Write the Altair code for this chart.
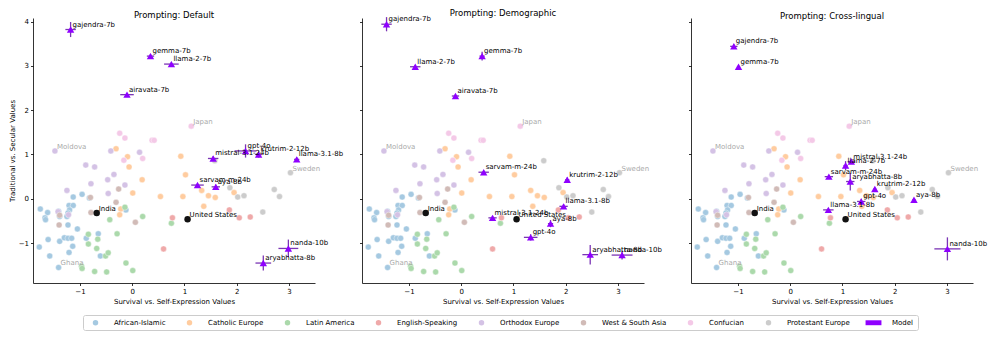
import altair as alt
import pandas as pd

FONT = "DejaVu Sans"

# ---------------- data ----------------
groups = ["African-Islamic", "Catholic Europe", "Latin America", "English-Speaking",
          "Orthodox Europe", "West & South Asia", "Confucian", "Protestant Europe", "Model"]
base_colors = ["#1f77b4", "#ff7f0e", "#2ca02c", "#d62728", "#9467bd",
               "#8c564b", "#e377c2", "#7f7f7f"]
model_color = "#8F00FF"

african_islamic_x = [-1.76, -1.62, -1.67, -1.66, -1.41, -1.39, -1.21, -1.13, -1.20, -1.23, -1.25,
                     -1.13, -0.96, -0.82, -1.23, -1.05, -1.61, -1.39, -1.30, -1.23, -1.16, -1.14,
                     -1.78, -1.58, -1.21, -1.41, -0.88, -0.65, -0.61, -0.12]
african_islamic_y = [-0.23, -0.31, -0.43, -0.47, -0.28, -0.40, -0.15, -0.15, -0.25, -0.32, -0.40,
                     0.04, 0.10, 0.02, -0.59, -0.68, -0.92, -0.96, -0.88, -0.89, -0.89, -1.07,
                     -1.09, -1.29, -1.21, -1.55, -0.89, -0.79, -1.29, -0.25]
catholic_x = [-0.31, -0.09, -0.06, 0.19, 0.01, -0.22, -0.24, 0.93, 1.02, 0.54, 0.97, 1.33, 1.46, 1.37, 1.59, 1.95]
catholic_y = [1.13, 0.95, 0.72, 0.43, 0.13, -0.23, -0.36, 0.96, 0.54, 0.05, 0.05, 0.19, 0.07, -0.17, 0.03, 0.14]
latin_x = [-0.84, -0.66, -0.84, -0.68, -0.29, -0.43, 0.20, -0.14, -0.97, -0.96, -0.72, -0.49, -0.12, 0.01, -0.51, -0.46, 0.75]
latin_y = [-0.80, -0.91, -1.02, -1.12, -0.79, -0.47, -0.40, -0.19, -1.52, -1.57, -1.64, -1.65, -1.45, -1.62, -1.29, -1.22, -0.55]
english_x = [0.77, 0.60, 1.86, 2.05, 2.26]
english_y = [-0.43, -1.13, -0.25, -0.43, -0.41]
orthodox_x = [-1.48, -0.41, -0.89, -0.72, -0.35, -0.47, -0.79, -0.14, -1.25, -0.46, 0.14, -1.42, -1.22]
orthodox_y = [1.08, 1.08, 0.76, 0.72, 0.55, 0.43, 0.34, 0.31, 0.19, 0.12, 1.05, -0.29, -0.36]
west_south_asia_x = [-0.80, -0.26, -0.31, 0.06, -1.40, -1.39, -0.79]
west_south_asia_y = [0.03, 0.22, -0.08, -0.53, -0.59, -0.37, -0.31]
confucian_x = [1.13, -0.24, -0.14, 0.38, 0.42, -0.16, 0.20]
confucian_y = [1.64, 1.48, 1.37, 1.32, 1.32, 0.87, 0.91]
protestant_x = [3.03, 1.87, 2.02, 2.14, 2.72, 2.82, 2.50, 1.58]
protestant_y = [0.59, 0.25, 0.04, 0.07, 0.21, 0.05, -0.30, 0.86]

highlight_names = ["India", "United States"]
highlight_x = [-0.68, 1.06]
highlight_y = [-0.32, -0.46]

ref_names = ["Japan", "Moldova", "Sweden", "Ghana"]
ref_x = [1.13, -1.48, 3.03, -1.41]
ref_y = [1.64, 1.08, 0.59, -1.55]

models = ["gajendra-7b", "gemma-7b", "llama-2-7b", "airavata-7b", "gpt-4o", "krutrim-2-12b",
          "mistral-3.1-24b", "llama-3.1-8b", "sarvam-m-24b", "aya-8b", "nanda-10b", "aryabhatta-8b"]

default_x = [-1.18, 0.35, 0.75, -0.10, 2.17, 2.42, 1.55, 3.15, 1.25, 1.60, 2.99, 2.51]
default_y = [3.82, 3.22, 3.04, 2.35, 1.08, 1.00, 0.91, 0.89, 0.31, 0.27, -1.12, -1.45]
default_xerr = [0.10, 0.07, 0.14, 0.13, 0.21, 0.07, 0.10, 0.05, 0.12, 0.08, 0.19, 0.15]
default_yerr = [0.17, 0.05, 0.05, 0.04, 0.15, 0.07, 0.05, 0.05, 0.03, 0.05, 0.20, 0.17]

demo_x = [-1.43, 0.40, -0.88, -0.11, 1.33, 2.03, 0.60, 1.96, 0.43, 1.71, 3.08, 2.47]
demo_y = [3.94, 3.22, 2.98, 2.32, -0.87, 0.43, -0.43, -0.17, 0.60, -0.56, -1.27, -1.26]
demo_xerr = [0.10, 0.05, 0.10, 0.07, 0.13, 0.04, 0.08, 0.08, 0.10, 0.05, 0.20, 0.15]
demo_yerr = [0.16, 0.10, 0.04, 0.04, 0.07, 0.05, 0.04, 0.05, 0.04, 0.08, 0.10, 0.22]

cross_x = [-1.08, -0.99, 1.06, None, 1.36, 1.62, 1.17, 0.73, 0.74, 2.37, 3.01, 1.15]
cross_y = [3.44, 2.98, 0.75, None, -0.06, 0.22, 0.84, -0.25, 0.50, -0.02, -1.13, 0.39]
cross_xerr = [0.07, 0.03, 0.04, None, 0.08, 0.03, 0.07, 0.10, 0.08, 0.03, 0.25, 0.08]
cross_yerr = [0.06, 0.03, 0.10, None, 0.06, 0.03, 0.04, 0.03, 0.03, 0.03, 0.26, 0.20]

x_ticks = [-1, 0, 1, 2, 3]
y_ticks = [-1, 0, 1, 2, 3, 4]


# ---------------- styling helpers ----------------
def blend(hex_color, alpha=0.4):
    h = hex_color.lstrip("#")
    rgb = [int(h[i:i + 2], 16) for i in (0, 2, 4)]
    out = [round(255 - alpha * (255 - c)) for c in rgb]
    return "#" + "".join(f"{c:02x}" for c in out)


colors = [blend(c) for c in base_colors] + [model_color]
model_legend_shape = "M-2.9,-0.9L2.9,-0.9L2.9,0.9L-2.9,0.9Z"
shapes = ["circle"] * 8 + [model_legend_shape]

group_xy = [
    (african_islamic_x, african_islamic_y), (catholic_x, catholic_y), (latin_x, latin_y),
    (english_x, english_y), (orthodox_x, orthodox_y), (west_south_asia_x, west_south_asia_y),
    (confucian_x, confucian_y), (protestant_x, protestant_y),
]
rows = []
for g, (xs, ys) in zip(groups[:8], group_xy):
    for a, b in zip(xs, ys):
        rows.append({"x": a, "y": b, "group": g})
countries = pd.DataFrame(rows)
highlights = pd.DataFrame({"x": highlight_x, "y": highlight_y, "name": highlight_names})
refs = pd.DataFrame({"x": ref_x, "y": ref_y, "name": ref_names})

color_enc = alt.Color("group:N", title=None,
                      scale=alt.Scale(domain=groups, range=colors))
shape_enc = alt.Shape("group:N", title=None,
                      scale=alt.Scale(domain=groups, range=shapes))


def panel(title, mx, my, mxe, mye, first):
    mdf = pd.DataFrame({"model": models, "x": mx, "y": my, "xe": mxe, "ye": mye}).dropna()
    mdf["group"] = "Model"
    mdf["x0"] = mdf["x"] - mdf["xe"]
    mdf["x1"] = mdf["x"] + mdf["xe"]
    mdf["y0"] = mdf["y"] - mdf["ye"]
    mdf["y1"] = mdf["y"] + mdf["ye"]

    xscale = alt.Scale(domain=[-1.9, 3.5], nice=False, zero=False)
    yscale = alt.Scale(domain=[-1.9, 4.08], nice=False, zero=False)
    xaxis = alt.Axis(values=x_ticks, title="Survival vs. Self-Expression Values", grid=False)
    if first:
        yaxis = alt.Axis(values=y_ticks, title="Traditional vs. Secular Values", grid=False)
    else:
        yaxis = alt.Axis(values=y_ticks, labels=False, title=None, grid=False)
    X = lambda f: alt.X(f, type="quantitative", scale=xscale, axis=xaxis)
    Y = lambda f: alt.Y(f, type="quantitative", scale=yscale, axis=yaxis)

    pts = alt.Chart(countries).mark_point(filled=True, size=36, opacity=1, stroke="white",
                                          strokeWidth=0.4).encode(
        x=X("x"), y=Y("y"), color=color_enc, shape=shape_enc)
    ref_txt = alt.Chart(refs).mark_text(align="left", baseline="middle", dx=2, dy=-4,
                                        fontSize=7, font=FONT, color="#aaaaaa").encode(
        x=X("x"), y=Y("y"), text="name:N")
    hl_pts = alt.Chart(highlights).mark_circle(size=42, color="#111111", opacity=1).encode(
        x=X("x"), y=Y("y"))
    hl_txt = alt.Chart(highlights).mark_text(align="left", baseline="middle", dx=2, dy=-4,
                                             fontSize=7, font=FONT, color="black").encode(
        x=X("x"), y=Y("y"), text="name:N")
    err_x = alt.Chart(mdf).mark_rule(color="#7b35b5", strokeWidth=1.3).encode(
        x=X("x0"), x2="x1", y=Y("y"))
    err_y = alt.Chart(mdf).mark_rule(color="#7b35b5", strokeWidth=1.3).encode(
        x=X("x"), y=Y("y0"), y2="y1")
    tri = alt.Chart(mdf).mark_point(filled=True, shape="triangle-up", size=55, opacity=1).encode(
        x=X("x"), y=Y("y"), color=color_enc)
    m_txt = alt.Chart(mdf).mark_text(align="left", baseline="middle", dx=2, dy=-5,
                                     fontSize=7, font=FONT, color="black").encode(
        x=X("x"), y=Y("y"), text="model:N")
    return alt.layer(pts, ref_txt, hl_pts, hl_txt, err_x, err_y, tri, m_txt).properties(
        width=282, height=265, title=title)


chart = alt.hconcat(
    panel("Prompting: Default", default_x, default_y, default_xerr, default_yerr, True),
    panel("Prompting: Demographic", demo_x, demo_y, demo_xerr, demo_yerr, False),
    panel("Prompting: Cross-lingual", cross_x, cross_y, cross_xerr, cross_yerr, False),
    spacing=47,
).resolve_scale(color="shared", shape="shared").properties(
    padding=0, bounds="flush"
).configure_view(stroke=None).configure_title(
    font=FONT, fontSize=8.5, fontWeight="normal", color="black", offset=-2
).configure_axis(
    labelFont=FONT, titleFont=FONT, labelFontSize=7, titleFontSize=7, titleFontWeight="normal",
    labelColor="black", titleColor="black", domainColor="black", tickColor="black",
    domainWidth=0.8, tickWidth=0.8, tickSize=2.5, labelPadding=2, titlePadding=3, grid=False
).configure_legend(
    orient="none", legendX=50, legendY=297, direction="horizontal", columns=9,
    labelFont=FONT, labelFontSize=7, labelColor="black", symbolSize=30, symbolStrokeWidth=0,
    symbolOffset=5, labelOffset=15, columnPadding=15, padding=4,
    strokeColor="#cccccc", fillColor="white", cornerRadius=2
)

chart.save("out.html", embed_options={"renderer": "svg", "actions": False})
